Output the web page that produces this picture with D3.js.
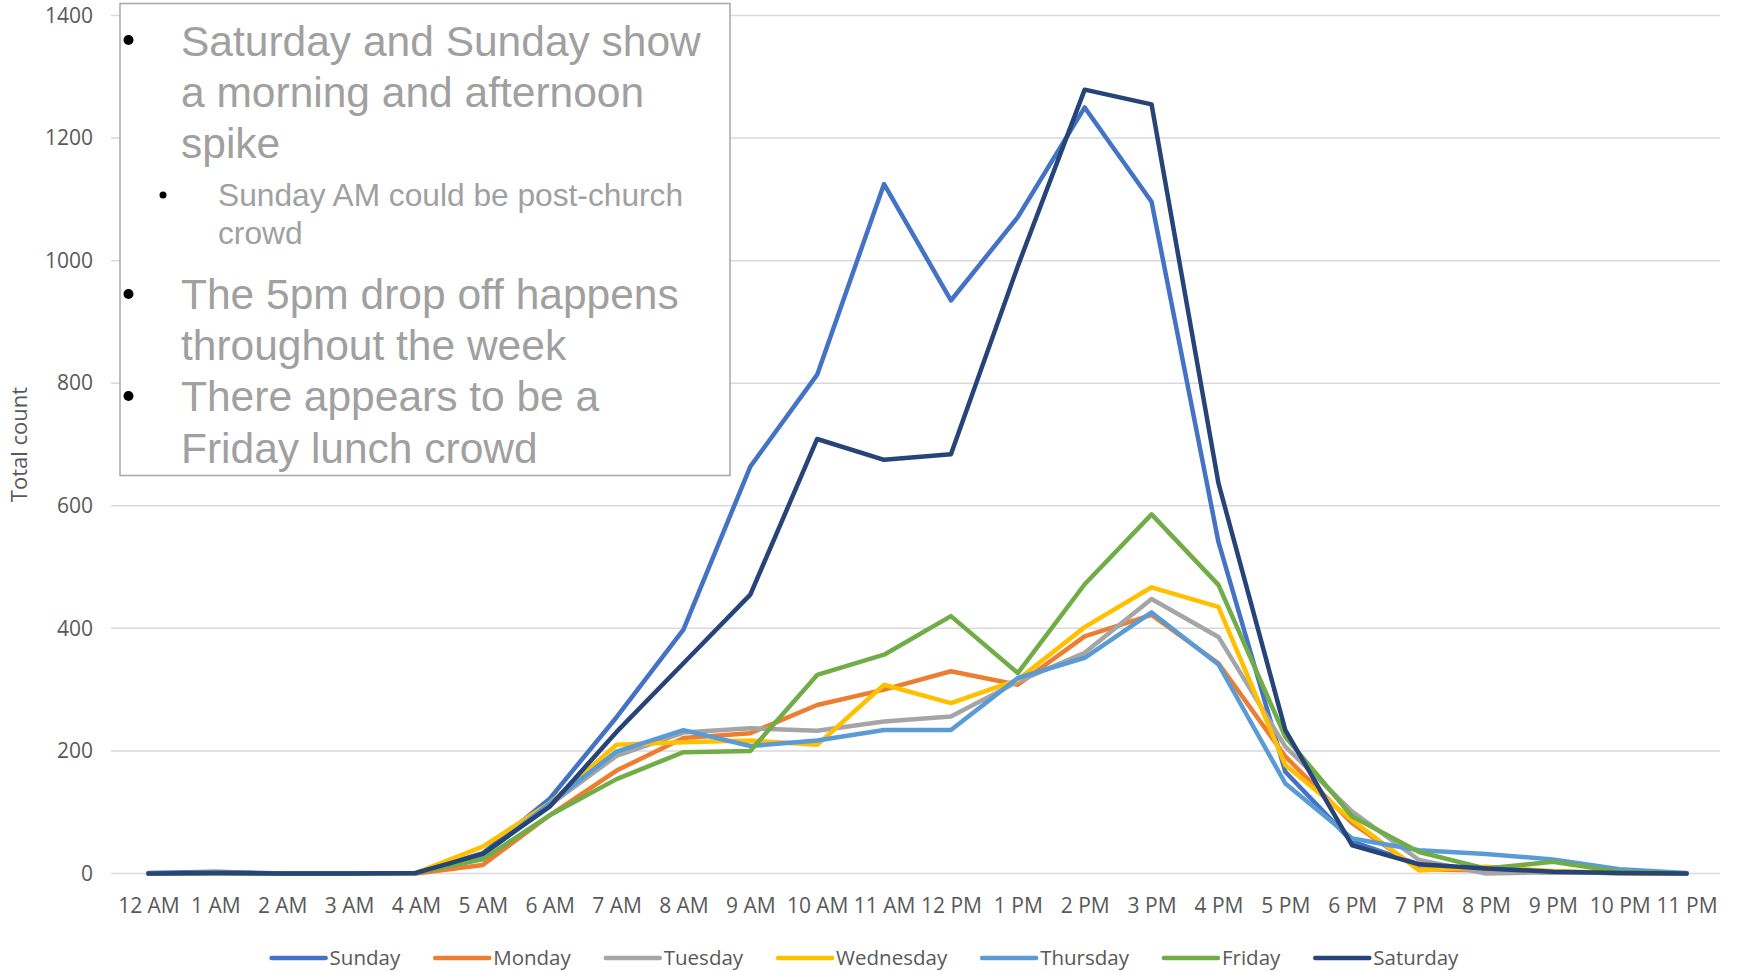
<!DOCTYPE html>
<html>
<head>
<meta charset="utf-8">
<script src="https://cdn.jsdelivr.net/npm/d3@7"></script>
<style>
  body { margin: 0; background: #fff; }
  svg { display: block; }
</style>
</head>
<body>
<svg id="chart"></svg>
<script>
const hours = ["12 AM", "1 AM", "2 AM", "3 AM", "4 AM", "5 AM", "6 AM", "7 AM", "8 AM", "9 AM", "10 AM", "11 AM",
    "12 PM", "1 PM", "2 PM", "3 PM", "4 PM", "5 PM", "6 PM", "7 PM", "8 PM", "9 PM", "10 PM", "11 PM"];

const sunday    = [1, 3, 0, 0, 1, 33, 122, 255, 398, 664, 814, 1125, 935, 1071, 1250, 1096, 541, 166, 52, 15, 5, 2, 1, 0];
const monday    = [0, 1, 0, 0, 0, 14, 95, 168, 221, 229, 275, 300, 330, 308, 387, 422, 343, 191, 82, 7, 5, 2, 1, 0];
const tuesday   = [0, 1, 0, 0, 1, 30, 112, 192, 230, 237, 233, 248, 256, 313, 360, 448, 386, 207, 101, 22, 0, 2, 1, 0];
const wednesday = [0, 1, 0, 0, 1, 44, 115, 210, 214, 217, 210, 308, 278, 316, 402, 467, 435, 177, 87, 5, 11, 4, 1, 0];
const thursday  = [0, 1, 0, 0, 1, 30, 114, 199, 234, 208, 217, 234, 234, 319, 352, 426, 341, 147, 57, 38, 32, 23, 7, 1];
const friday    = [0, 1, 0, 0, 1, 23, 95, 154, 198, 200, 324, 357, 420, 327, 472, 586, 471, 223, 93, 35, 8, 19, 3, 0];
const saturday  = [0, 1, 0, 0, 1, 32, 109, 231, 343, 455, 709, 675, 684, 991, 1279, 1255, 637, 234, 46, 15, 8, 3, 1, 0];

const seriesNames = ["Sunday", "Monday", "Tuesday", "Wednesday", "Thursday", "Friday", "Saturday"];
const seriesValues = [sunday, monday, tuesday, wednesday, thursday, friday, saturday];
const colors = ["#4472C4", "#ED7D31", "#A5A5A5", "#FFC000", "#5B9BD5", "#70AD47", "#264478"];

const yTicks = [0, 200, 400, 600, 800, 1000, 1200, 1400];

const notes = [
    { level: 0, lines: ["Saturday and Sunday show", "a morning and afternoon", "spike"] },
    { level: 1, lines: ["Sunday AM could be post-church", "crowd"] },
    { level: 0, lines: ["The 5pm drop off happens", "throughout the week"] },
    { level: 0, lines: ["There appears to be a", "Friday lunch crowd"] }
];

const width = 1738, height = 972;
const plotLeft = 115, plotRight = 1720, plotTop = 15.5, plotBottom = 873.5;
const font = "'Open Sans', sans-serif";

const svg = d3.select("#chart")
    .attr("width", width)
    .attr("height", height);

const x = d3.scalePoint()
    .domain(hours)
    .range([plotLeft, plotRight])
    .padding(0.5);

const y = d3.scaleLinear()
    .domain([0, 1400])
    .range([plotBottom, plotTop]);

// gridlines
svg.append("g")
    .selectAll("line")
    .data(yTicks)
    .enter().append("line")
    .attr("x1", plotLeft - 4)
    .attr("x2", plotRight)
    .attr("y1", d => y(d))
    .attr("y2", d => y(d))
    .style("stroke", "#d9d9d9")
    .style("stroke-width", 1.5);

// y axis labels
const yAxis = svg.append("g")
    .attr("transform", `translate(${plotLeft},0)`)
    .call(d3.axisLeft(y).tickValues(yTicks).tickFormat(d3.format("d")).tickSize(0).tickPadding(22));
yAxis.select(".domain").remove();
yAxis.selectAll("text")
    .style("font-family", font)
    .style("font-size", "21px")
    .style("fill", "#595959");

// x axis labels
const xAxis = svg.append("g")
    .attr("transform", `translate(0,${plotBottom})`)
    .call(d3.axisBottom(x).tickSize(0).tickPadding(25));
xAxis.select(".domain").remove();
xAxis.selectAll("text")
    .style("font-family", font)
    .style("font-size", "21px")
    .style("fill", "#595959");

// axis title
svg.append("text")
    .attr("transform", `translate(27,${(plotTop + plotBottom) / 2}) rotate(-90)`)
    .attr("text-anchor", "middle")
    .style("font-family", font)
    .style("font-size", "22px")
    .style("fill", "#595959")
    .text("Total count");

// lines
const line = d3.line()
    .x((d, i) => x(hours[i]))
    .y(d => y(d));

svg.append("g")
    .selectAll("path")
    .data(seriesValues)
    .enter().append("path")
    .attr("d", line)
    .style("fill", "none")
    .style("stroke", (d, i) => colors[i])
    .style("stroke-width", 4.5)
    .style("stroke-linejoin", "round")
    .style("stroke-linecap", "round");

// legend
const legend = svg.append("g");
const items = legend.selectAll("g")
    .data(seriesNames)
    .enter().append("g");
items.append("line")
    .attr("x1", 0).attr("x2", 54)
    .attr("y1", 0).attr("y2", 0)
    .style("stroke", (d, i) => colors[i])
    .style("stroke-width", 4.5)
    .style("stroke-linecap", "round");
items.append("text")
    .attr("x", 58)
    .attr("dy", "0.35em")
    .style("font-family", font)
    .style("font-size", "20.5px")
    .style("fill", "#595959")
    .text(d => d);

const gap = 35;
let offsets = [], cursor = 0;
items.each(function () {
    offsets.push(cursor);
    cursor += 58 + this.querySelector("text").getComputedTextLength() + gap;
});
const legendWidth = cursor - gap;
const legendStart = 865 - legendWidth / 2;
items.attr("transform", (d, i) => `translate(${legendStart + offsets[i]},958)`);

// notes box
const box = svg.append("g");
box.append("rect")
    .attr("x", 120)
    .attr("y", 3.5)
    .attr("width", 610)
    .attr("height", 472)
    .style("fill", "#fff")
    .style("stroke", "#a6a6a6")
    .style("stroke-width", 1.5);

const noteBaselines = [[55.5, 106.5, 157.5], [206, 244], [309, 360], [411, 463]];
const bulletY = [40, 195, 294, 396];

notes.forEach((n, k) => {
    box.append("circle")
        .attr("cx", n.level === 0 ? 128.5 : 163)
        .attr("cy", bulletY[k])
        .attr("r", n.level === 0 ? 5 : 3.5)
        .style("fill", "#000");
    n.lines.forEach((t, j) => {
        box.append("text")
            .attr("x", n.level === 0 ? 181 : 218)
            .attr("y", noteBaselines[k][j])
            .style("font-family", "'Liberation Sans', Arial, sans-serif")
            .style("font-size", n.level === 0 ? "42.5px" : "31.7px")
            .style("fill", "#a0a0a0")
            .text(t);
    });
});
</script>
</body>
</html>
